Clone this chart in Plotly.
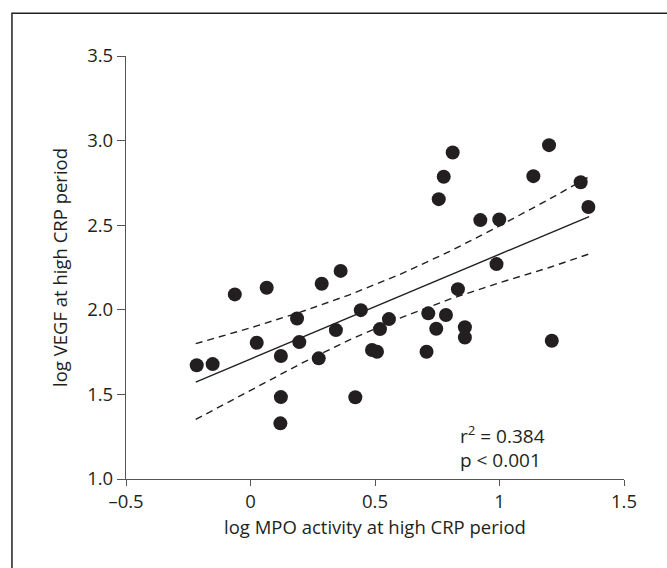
import plotly.graph_objects as go

# Scatter data (log MPO activity, log VEGF) at high CRP period
mpo = [-0.216, -0.152, -0.063, 0.065, 0.025, 0.122, 0.122, 0.120, 0.187, 0.196,
       0.286, 0.274, 0.362, 0.343, 0.443, 0.421, 0.520, 0.556, 0.488, 0.508,
       0.812, 0.776, 0.756, 0.923, 0.999, 1.199, 1.136, 1.326, 1.357, 0.988,
       0.833, 0.714, 0.785, 0.746, 0.861, 0.861, 0.707, 1.210]
vegf = [1.672, 1.679, 2.091, 2.130, 1.805, 1.727, 1.484, 1.329, 1.949, 1.809,
        2.154, 1.713, 2.230, 1.880, 1.998, 1.483, 1.886, 1.945, 1.762, 1.752,
        2.930, 2.786, 2.654, 2.530, 2.534, 2.973, 2.790, 2.754, 2.608, 2.270,
        2.122, 1.979, 1.969, 1.888, 1.897, 1.836, 1.752, 1.817]

# Regression line and 95% confidence band
fit_x = [-0.22, 0.0, 0.2, 0.4, 0.6, 0.8, 1.0, 1.2, 1.36]
fit_y = [1.573, 1.709, 1.833, 1.957, 2.080, 2.204, 2.328, 2.452, 2.551]
ci_upper = [1.800, 1.893, 1.986, 2.090, 2.209, 2.345, 2.496, 2.654, 2.786]
ci_lower = [1.352, 1.525, 1.680, 1.824, 1.951, 2.063, 2.160, 2.250, 2.330]

x_ticks = [-0.5, 0, 0.5, 1, 1.5]
x_ticktext = ["\u20130.5", "0", "0.5", "1", "1.5"]
y_ticks = [1.0, 1.5, 2.0, 2.5, 3.0, 3.5]
y_ticktext = ["1.0", "1.5", "2.0", "2.5", "3.0", "3.5"]

ink = "#231f20"
fam = "Open Sans"
tick_font = dict(family=fam, size=18.5, color=ink)
title_font = dict(family=fam, size=18.5, color=ink)

fig = go.Figure()
fig.add_trace(go.Scatter(x=fit_x, y=ci_upper, mode="lines",
                         line=dict(color=ink, width=1.4, dash="7px,5px"),
                         hoverinfo="skip"))
fig.add_trace(go.Scatter(x=fit_x, y=ci_lower, mode="lines",
                         line=dict(color=ink, width=1.4, dash="7px,5px"),
                         hoverinfo="skip"))
fig.add_trace(go.Scatter(x=fit_x, y=fit_y, mode="lines",
                         line=dict(color=ink, width=1.4)))
fig.add_trace(go.Scatter(x=mpo, y=vegf, mode="markers",
                         marker=dict(color=ink, size=14, line=dict(width=0))))

fig.add_annotation(x=0.833, y=1.26, xref="x", yref="y", xanchor="left",
                   text="r<sup>2</sup> = 0.384", showarrow=False,
                   font=dict(family=fam, size=19, color=ink))
fig.add_annotation(x=0.833, y=1.112, xref="x", yref="y", xanchor="left",
                   text="p < 0.001", showarrow=False,
                   font=dict(family=fam, size=19, color=ink))

# outer frame
fig.add_shape(type="rect", xref="paper", yref="paper",
              x0=-0.229, x1=1.2, y0=-0.25, y1=1.101,
              line=dict(color=ink, width=1.5), fillcolor="rgba(0,0,0,0)")

fig.update_layout(
    width=667, height=568,
    margin=dict(l=126, r=43, t=56, b=89),
    paper_bgcolor="white", plot_bgcolor="white",
    showlegend=False,
    font=dict(family=fam, size=18.5, color=ink),
    xaxis=dict(range=[-0.5, 1.5], tickvals=x_ticks, ticktext=x_ticktext,
               showline=True, linecolor="#555", linewidth=1.3,
               ticks="outside", ticklen=6, tickcolor="#555", tickwidth=1.3,
               tickfont=tick_font,
               showgrid=False, zeroline=False,
               title=dict(text="log MPO activity at high CRP period", standoff=8,
                          font=title_font)),
    yaxis=dict(range=[1.0, 3.5], tickvals=y_ticks, ticktext=y_ticktext,
               showline=True, linecolor="#555", linewidth=1.3,
               ticks="outside", ticklen=8, tickcolor="#555", tickwidth=1.3,
               tickfont=tick_font,
               showgrid=False, zeroline=False,
               title=dict(text="log VEGF at high CRP period", standoff=14,
                          font=title_font)),
)

fig.write_html("out.html")
